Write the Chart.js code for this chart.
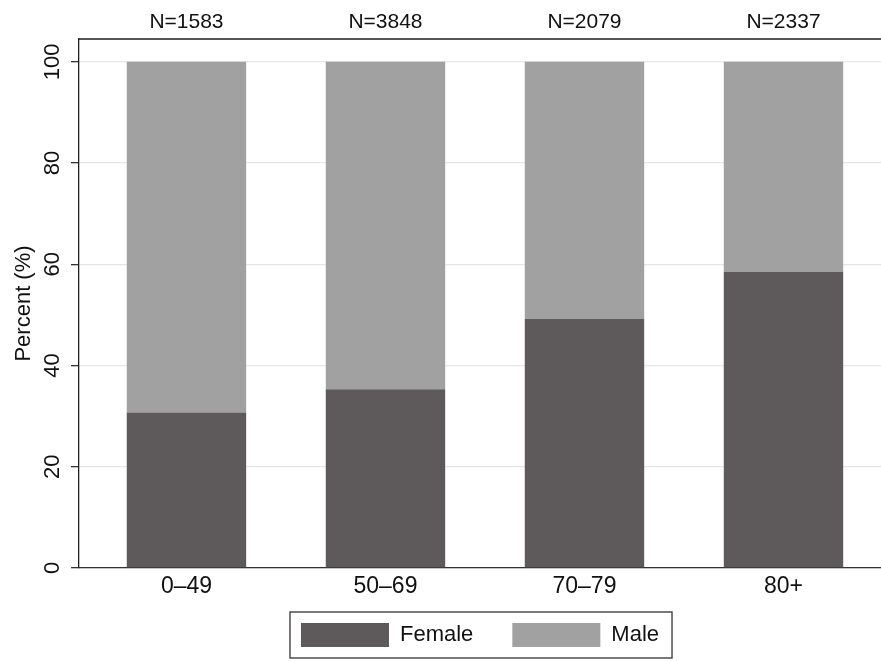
<!DOCTYPE html>
<html>
<head>
<meta charset="UTF-8">
<title>Percent by age group</title>
<script src="https://cdn.jsdelivr.net/npm/chart.js"></script>
<style>
  body { margin: 0; background: #fff; }
  canvas { display: block; }
</style>
</head>
<body>
<canvas id="chart" width="881" height="661"></canvas>
<script>
// data
const ageGroups = ['0\u201349', '50\u201369', '70\u201379', '80+'];
const groupN = [1583, 3848, 2079, 2337];
const female = [30.7, 35.3, 49.2, 58.5];
const male = [69.3, 64.7, 50.8, 41.5];
const yTicks = [0, 20, 40, 60, 80, 100];

const FONT = "'Liberation Sans', Arial, Helvetica, sans-serif";

// bars sit at 1..4 on a linear x so the left axis gap matches the original
const toPoints = vals => vals.map((v, i) => ({ x: i + 1, y: v }));
const setTicks = list => scale => { scale.ticks = list.map(v => ({ value: v })); };
const groupTicks = ageGroups.map((g, i) => i + 1);

// box round the legend, like the Stata one
const legendBox = {
  id: 'legendBox',
  afterDraw(chart) {
    const boxes = chart.legend && chart.legend.legendHitBoxes;
    if (!boxes || !boxes.length) return;
    const first = boxes[0], last = boxes[boxes.length - 1];
    const ctx = chart.ctx;
    ctx.save();
    ctx.strokeStyle = '#333';
    ctx.lineWidth = 1.3;
    ctx.strokeRect(first.left - 11, first.top - 11,
      last.left + last.width + 13 - (first.left - 11), first.height + 22);
    ctx.restore();
  }
};

new Chart(document.getElementById('chart'), {
  type: 'bar',
  data: {
    datasets: [
      { label: 'Female', data: toPoints(female), backgroundColor: '#5e5a5b', borderWidth: 0 },
      { label: 'Male', data: toPoints(male), backgroundColor: '#a1a1a1', borderWidth: 0 }
    ]
  },
  options: {
    responsive: false,
    animation: false,
    layout: { padding: { top: 0, left: 0, right: 0, bottom: 4 } },
    datasets: { bar: { barPercentage: 1, categoryPercentage: 0.6 } },
    scales: {
      x: {
        type: 'linear',
        stacked: true,
        offset: false,
        min: 0.46,
        max: 4.49,
        afterBuildTicks: setTicks(groupTicks),
        afterFit: s => { s.height = 16; },
        grid: { display: false, drawTicks: false, offset: false },
        border: { display: true, color: '#333', width: 1.3 },
        ticks: {
          // mirrored with a negative padding so the labels are not clipped
          // to the thin axis box and still sit under the axis line
          mirror: true,
          padding: -32.3,
          color: '#111',
          font: { family: FONT, size: 23 },
          callback: v => ageGroups[v - 1]
        }
      },
      x2: {
        type: 'linear',
        position: 'top',
        offset: false,
        min: 0.46,
        max: 4.49,
        afterBuildTicks: setTicks(groupTicks),
        afterFit: s => { s.height = 39; },
        grid: { display: false, drawTicks: false },
        border: { display: true, color: '#555', width: 2 },
        ticks: {
          padding: 4,
          color: '#111',
          font: { family: FONT, size: 21 },
          callback: v => 'N=' + groupN[v - 1]
        }
      },
      y: {
        stacked: true,
        min: 0,
        max: 104.5,
        afterBuildTicks: setTicks(yTicks),
        afterFit: s => { s.width = 79; },
        grid: { color: '#e6e6e6', lineWidth: 1.3, tickColor: '#333', tickLength: 8 },
        border: { display: true, color: '#222', width: 1.3 },
        ticks: {
          minRotation: 90,
          maxRotation: 90,
          crossAlign: 'center',
          padding: 0,
          color: '#111',
          font: { family: FONT, size: 22 }
        },
        title: {
          display: true,
          text: 'Percent (%)',
          color: '#111',
          padding: { top: 11, bottom: 0 },
          font: { family: FONT, size: 22 }
        }
      }
    },
    plugins: {
      legend: {
        position: 'bottom',
        fullSize: false,
        labels: {
          boxWidth: 88,
          boxHeight: 24,
          padding: 39,
          color: '#111',
          font: { family: FONT, size: 22 }
        }
      },
      tooltip: { enabled: false }
    }
  },
  plugins: [legendBox]
});
</script>
</body>
</html>
